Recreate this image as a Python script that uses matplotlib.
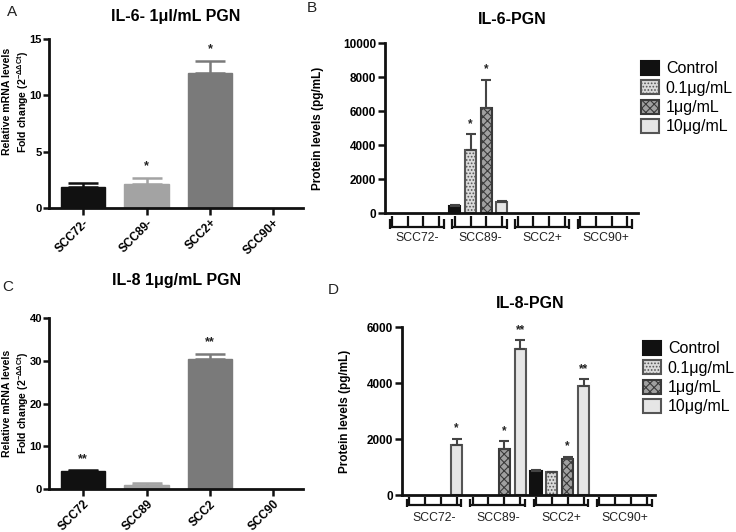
import matplotlib
matplotlib.use("Agg")
import matplotlib.pyplot as plt
import numpy as np
from matplotlib.patches import Patch

plt.rcParams['font.family'] = ['Liberation Sans', 'DejaVu Sans']
plt.rcParams['mathtext.fontset'] = 'custom'
plt.rcParams['mathtext.rm'] = 'Liberation Sans:bold'
plt.rcParams['mathtext.bf'] = 'Liberation Sans:bold'
plt.rcParams['mathtext.it'] = 'Liberation Sans:bold'
plt.rcParams['hatch.linewidth'] = 0.8

# ---------------- data ----------------
cells_A = ["SCC72-", "SCC89-", "SCC2+", "SCC90+"]
il6_mrna = [1.83, 2.13, 11.98, 0.0]
il6_mrna_err = [0.37, 0.53, 1.1, 0.0]
il6_mrna_stars = ["", "*", "*", ""]

cells_C = ["SCC72", "SCC89", "SCC2", "SCC90"]
il8_mrna = [4.2, 0.9, 30.3, 0.0]
il8_mrna_err = [0.15, 0.4, 1.3, 0.0]
il8_mrna_stars = ["**", "", "**", ""]

groups = ["SCC72-", "SCC89-", "SCC2+", "SCC90+"]
doses = ["Control", "0.1\u03bcg/mL", "1\u03bcg/mL", "10\u03bcg/mL"]

# IL-6 protein (pg/mL), per dose, per cell line
il6_prot = {
    "Control":    [0, 400, 0, 0],
    "0.1\u03bcg/mL": [0, 3700, 0, 0],
    "1\u03bcg/mL":   [0, 6200, 0, 0],
    "10\u03bcg/mL":  [0, 650, 0, 0],
}
il6_prot_err = {
    "Control":    [0, 60, 0, 0],
    "0.1\u03bcg/mL": [0, 930, 0, 0],
    "1\u03bcg/mL":   [0, 1650, 0, 0],
    "10\u03bcg/mL":  [0, 70, 0, 0],
}
il6_prot_stars = {
    "Control":    ["", "", "", ""],
    "0.1\u03bcg/mL": ["", "*", "", ""],
    "1\u03bcg/mL":   ["", "*", "", ""],
    "10\u03bcg/mL":  ["", "", "", ""],
}

# IL-8 protein (pg/mL)
il8_prot = {
    "Control":    [0, 0, 870, 0],
    "0.1\u03bcg/mL": [0, 0, 810, 0],
    "1\u03bcg/mL":   [0, 1640, 1290, 0],
    "10\u03bcg/mL":  [1770, 5200, 3900, 0],
}
il8_prot_err = {
    "Control":    [0, 0, 20, 0],
    "0.1\u03bcg/mL": [0, 0, 20, 0],
    "1\u03bcg/mL":   [0, 290, 80, 0],
    "10\u03bcg/mL":  [240, 330, 230, 0],
}
il8_prot_stars = {
    "Control":    ["", "", "", ""],
    "0.1\u03bcg/mL": ["", "", "", ""],
    "1\u03bcg/mL":   ["", "*", "*", ""],
    "10\u03bcg/mL":  ["*", "**", "**", ""],
}

# ---------------- styles ----------------
W, H = 736, 532
fig = plt.figure(figsize=(W / 100, H / 100), dpi=100)


def ax_at(left, right, top, bottom):
    return fig.add_axes([left / W, 1 - bottom / H, (right - left) / W, (bottom - top) / H])


def style_axes(ax, tick_fs=8.5, tick_len=5, tick_pad=1.5):
    for s in ["top", "right"]:
        ax.spines[s].set_visible(False)
    for s in ["left", "bottom"]:
        ax.spines[s].set_linewidth(2)
        ax.spines[s].set_color("#111111")
    ax.tick_params(axis="both", direction="out", length=tick_len, width=1.8, color="#111111", pad=tick_pad)
    for lab in ax.get_yticklabels():
        lab.set_fontweight("bold")
        lab.set_fontsize(tick_fs)


mrna_colors = ["#111111", "#a3a3a3", "#7a7a7a", "#cccccc"]

dose_style = {
    "Control":    dict(facecolor="#111111", edgecolor="#111111", hatch=None),
    "0.1\u03bcg/mL": dict(facecolor="#dadada", edgecolor="#555555", hatch="....."),
    "1\u03bcg/mL":   dict(facecolor="#a0a0a0", edgecolor="#3a3a3a", hatch="xxxx"),
    "10\u03bcg/mL":  dict(facecolor="#e6e6e6", edgecolor="#555555", hatch=None),
}


def mrna_panel(ax, cells, vals, errs, stars, ymax, yticks, ylabel_xy):
    x = np.arange(len(cells))
    for i in range(len(cells)):
        if vals[i] <= 0:
            continue
        ax.bar(x[i], vals[i], width=0.7, color=mrna_colors[i], edgecolor=mrna_colors[i], linewidth=1)
        ax.errorbar(x[i], vals[i], yerr=[[0], [errs[i]]], fmt="none", ecolor=mrna_colors[i],
                    elinewidth=1.8, capsize=11, capthick=1.8)
        if stars[i]:
            ax.annotate(stars[i], (x[i], vals[i] + errs[i]), xytext=(0, 4), textcoords="offset points",
                        ha="center", va="bottom", fontsize=9, fontweight="bold", color="#222222")
    ax.set_xlim(-0.54, 3.47)
    ax.set_ylim(0, ymax)
    ax.set_yticks(yticks)
    ax.set_xticks(x)
    ax.set_xticklabels(cells, rotation=45, ha="right", rotation_mode="anchor",
                       fontsize=8.5, fontweight="bold")
    style_axes(ax, tick_fs=8, tick_len=4, tick_pad=1)
    ax.tick_params(axis="x", length=5, pad=1.5)
    ax.set_ylabel("Relative mRNA levels\nFold change (2$^{-\\Delta\\Delta \\mathrm{Ct}}$)",
                  fontsize=7.6, fontweight="bold", linespacing=1.25)
    ax.yaxis.set_label_coords(*ylabel_xy)


def prot_panel(ax, data, errs, stars, ymax, yticks, xlim, ylabel_x, legend_anchor, bracket_px):
    n_dose = len(doses)
    for j, d in enumerate(doses):
        st = dose_style[d]
        for g in range(len(groups)):
            v = data[d][g]
            if v <= 0:
                continue
            xpos = g * n_dose + j
            ax.bar(xpos, v, width=0.7, facecolor=st["facecolor"], edgecolor=st["edgecolor"],
                   hatch=st["hatch"], linewidth=1.5)
            e = errs[d][g]
            ax.errorbar(xpos, v, yerr=[[0], [e]], fmt="none", ecolor="#444444",
                        elinewidth=1.5, capsize=3.5, capthick=1.5)
            if stars[d][g]:
                ax.annotate(stars[d][g], (xpos, v + e), xytext=(0, 3), textcoords="offset points",
                            ha="center", va="bottom", fontsize=8.5, fontweight="bold", color="#222222")
    ax.set_xlim(*xlim)
    ax.set_ylim(0, ymax)
    ax.set_yticks(yticks)
    ax.set_xticks([])
    style_axes(ax)
    ax.set_ylabel("Protein levels (pg/mL)", fontsize=8.5, fontweight="bold")
    ax.yaxis.set_label_coords(ylabel_x, 0.5)

    # group brackets below axis
    hpx = ax.get_position().height * H
    ln, cap_top, cap_bot, tick_top, lab = [b / hpx for b in bracket_px]
    tr = ax.get_xaxis_transform()
    for g, name in enumerate(groups):
        x0 = g * n_dose - 0.15
        x1 = g * n_dose + n_dose - 1 + 0.3
        kw = dict(color="#111111", lw=1.6, transform=tr, clip_on=False, solid_capstyle="butt")
        ax.plot([x0, x1], [-ln, -ln], **kw)
        ax.plot([x0, x0], [-cap_top, -cap_bot], **kw)
        ax.plot([x1, x1], [-cap_top, -cap_bot], **kw)
        for j in range(n_dose):
            xt = g * n_dose + j
            ax.plot([xt, xt], [-tick_top, -ln], **kw)
        ax.text(g * n_dose + 1.6, -lab, name, transform=tr, ha="center", va="center",
                fontsize=8.8, color="#222222")

    handles = [Patch(facecolor=dose_style[d]["facecolor"], edgecolor=dose_style[d]["edgecolor"],
                     hatch=dose_style[d]["hatch"], linewidth=1.5, label=d) for d in doses]
    ax.legend(handles=handles, loc="upper left",
              bbox_to_anchor=(legend_anchor[0] / W, 1 - legend_anchor[1] / H),
              bbox_transform=fig.transFigure, frameon=False, fontsize=11.5,
              handlelength=1.1, handleheight=0.95, handletextpad=0.45, labelspacing=0.25,
              borderpad=0, borderaxespad=0)


# ---------------- panels ----------------
axA = ax_at(49, 303, 39, 208)
mrna_panel(axA, cells_A, il6_mrna, il6_mrna_err, il6_mrna_stars, 15, [0, 5, 10, 15], (-0.072, 0.63))

axC = ax_at(49, 303, 318, 489)
mrna_panel(axC, cells_C, il8_mrna, il8_mrna_err, il8_mrna_stars, 40, [0, 10, 20, 30, 40], (-0.072, 0.5))

axB = ax_at(385, 638, 43, 213)
prot_panel(axB, il6_prot, il6_prot_err, il6_prot_stars, 10000, [0, 2000, 4000, 6000, 8000, 10000],
           (-0.45, 15.67), -0.24, (641, 61), (14, 6, 16, 3, 25))

axD = ax_at(402, 655, 327, 495)
prot_panel(axD, il8_prot, il8_prot_err, il8_prot_stars, 6000, [0, 2000, 4000, 6000],
           (-0.45, 15.5), -0.20, (643, 341), (10, 4, 12, 2, 23))

# titles
fig.text(176 / W, 1 - 17 / H, "IL-6- 1\u03bcl/mL PGN", ha="center", va="center", fontsize=11.5, fontweight="bold")
fig.text(512 / W, 1 - 20 / H, "IL-6-PGN", ha="center", va="center", fontsize=11.5, fontweight="bold")
fig.text(177 / W, 1 - 280 / H, "IL-8 1\u03bcg/mL PGN", ha="center", va="center", fontsize=11.5, fontweight="bold")
fig.text(530 / W, 1 - 304 / H, "IL-8-PGN", ha="center", va="center", fontsize=11.5, fontweight="bold")

# panel letters
for ch, (px, py) in {"A": (12, 12), "B": (312, 8), "C": (8, 287), "D": (333, 290)}.items():
    fig.text(px / W, 1 - py / H, ch, ha="center", va="center", fontsize=11, color="#222222")

fig.savefig("out.png", dpi=100)
